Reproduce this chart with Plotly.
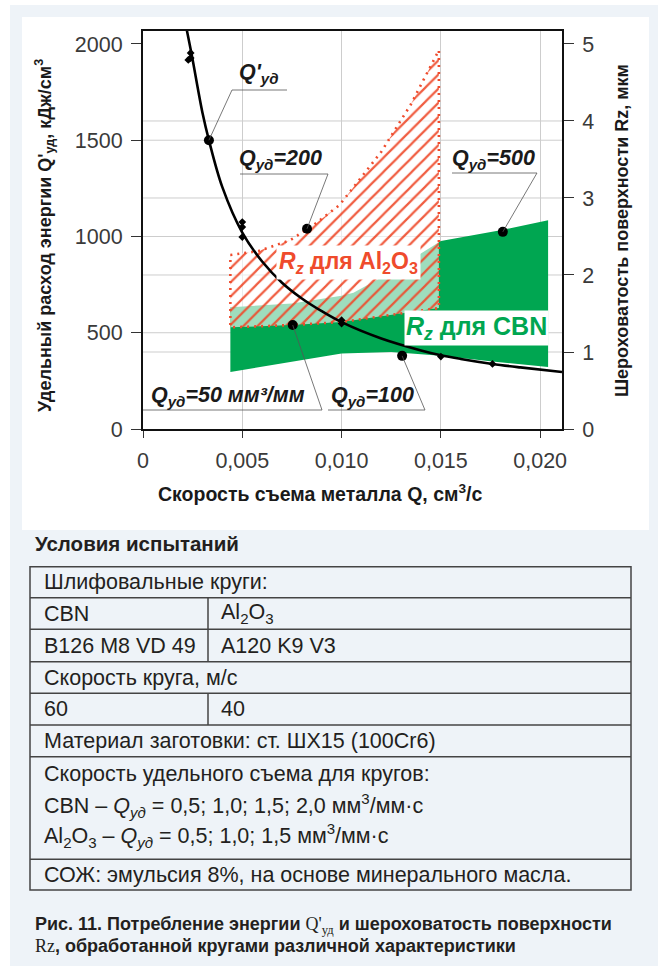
import plotly.graph_objects as go

W, H = 658, 966

# ---------------- data ----------------
# specific energy curve Q'уд (kJ/cm3) vs metal removal rate Q (cm3/s)
curve_q = [0.00221, 0.00246, 0.0030, 0.00332, 0.0040, 0.0050, 0.0060, 0.0070, 0.0080,
           0.0090, 0.0100, 0.0120, 0.0140, 0.0150, 0.0160, 0.0176, 0.0190, 0.0211]
curve_e = [2070, 1940, 1640, 1500, 1255, 1020, 870, 760, 678,
           612, 555, 470, 408, 383, 364, 338, 320, 296]

# measured points on the energy curve
mark_q = [0.00240, 0.00240, 0.00228, 0.0050, 0.0050, 0.0050, 0.0100, 0.0100, 0.0150, 0.0176]
mark_e = [1953, 1927, 1917, 1075, 1049, 997, 565, 548, 376, 338]
qprime_q = [0.00332]
qprime_e = [1500]

# Rz band for CBN wheels (µm)
cbn_top_q = [0.0044, 0.0075, 0.0100, 0.0106, 0.0125, 0.0150, 0.0180, 0.0204]
cbn_top_rz = [1.58, 1.63, 1.73, 1.77, 2.04, 2.44, 2.58, 2.71]
cbn_bot_q = [0.0044, 0.0075, 0.0100, 0.0125, 0.0150, 0.0176, 0.0204]
cbn_bot_rz = [0.74, 0.87, 0.98, 1.00, 0.95, 0.875, 0.805]

# Rz band for Al2O3 wheels (µm)
al_top_q = [0.0044, 0.0058, 0.0074, 0.0086, 0.0099, 0.0120, 0.0135, 0.0149]
al_top_rz = [2.26, 2.31, 2.45, 2.65, 2.91, 3.60, 4.22, 4.92]
al_bot_q = [0.0044, 0.0075, 0.0100, 0.0116, 0.0149]
al_bot_rz = [1.32, 1.35, 1.39, 1.45, 1.57]

# labelled Rz points
dot_q = [0.00754, 0.01305, 0.00826, 0.01812]
dot_rz = [1.35, 0.95, 2.60, 2.56]
dot_labels = ["Q<sub>уд</sub>=50 мм³/мм", "Q<sub>уд</sub>=100",
              "Q<sub>уд</sub>=200", "Q<sub>уд</sub>=500"]

x_ticks = [0, 0.005, 0.010, 0.015, 0.020]
x_tick_text = ["0", "0,005", "0,010", "0,015", "0,020"]
y_ticks = [0, 500, 1000, 1500, 2000]
y2_ticks = [0, 1, 2, 3, 4, 5]

XMAX, YMAX, Y2MAX = 0.0211, 2070, 5.175

table_rows = [
    ("Шлифовальные круги:", None),
    ("CBN", "Al<sub>2</sub>O<sub>3</sub>"),
    ("B126 M8 VD 49", "A120 K9 V3"),
    ("Скорость круга, м/с", None),
    ("60", "40"),
    ("Материал заготовки: ст. ШХ15 (100Cr6)", None),
]
table_multi = [
    "Скорость удельного съема для кругов:",
    "CBN – <i>Q</i><sub><i>уд</i></sub> = 0,5; 1,0; 1,5; 2,0 мм<sup>3</sup>/мм·с",
    "Al<sub>2</sub>O<sub>3</sub> – <i>Q</i><sub><i>уд</i></sub> = 0,5; 1,0; 1,5 мм<sup>3</sup>/мм·с",
]
table_last = "СОЖ: эмульсия 8%, на основе минерального масла."

# ---------------- styling / layout constants ----------------
RED = "#ef4b2c"
GREEN = "#00a651"
FONT = "Liberation Sans, Arial, sans-serif"
PL, PR, PT, PB = 143, 562, 30.5, 429


def px(p):
    return p / W


def py(p):
    return 1 - p / H


fig = go.Figure()

# Rz traces on base axis "y" (right side); energy on "y2" (left side, drawn on top)
fig.add_trace(go.Scatter(
    x=cbn_top_q + cbn_bot_q[::-1], y=cbn_top_rz + cbn_bot_rz[::-1],
    yaxis="y", mode="lines", fill="toself", fillcolor=GREEN,
    line=dict(width=0, color=GREEN), hoverinfo="skip", showlegend=False))

fig.add_trace(go.Scatter(
    x=al_top_q + al_bot_q[::-1] + [al_top_q[0]],
    y=al_top_rz + al_bot_rz[::-1] + [al_top_rz[0]],
    yaxis="y", mode="lines", fill="toself",
    fillcolor="rgba(255,255,255,0.62)",
    fillpattern=dict(shape="/", fgcolor=RED, bgcolor="rgba(255,255,255,0.62)",
                     size=10, solidity=0.22, fgopacity=0.9),
    line=dict(width=2.6, color=RED, dash="2px,5px"),
    hoverinfo="skip", showlegend=False))

fig.add_trace(go.Scatter(x=dot_q, y=dot_rz, yaxis="y", mode="markers",
                         marker=dict(symbol="circle", size=10, color="black"),
                         showlegend=False))

fig.add_trace(go.Scatter(x=curve_q, y=curve_e, yaxis="y2", mode="lines",
                         line=dict(color="black", width=2.6, shape="spline"),
                         showlegend=False))
fig.add_trace(go.Scatter(x=mark_q, y=mark_e, yaxis="y2", mode="markers",
                         marker=dict(symbol="diamond", size=6, color="black"),
                         showlegend=False))
fig.add_trace(go.Scatter(x=qprime_q, y=qprime_e, yaxis="y2", mode="markers",
                         marker=dict(symbol="circle", size=10, color="black"),
                         showlegend=False))

shapes = []
shapes.append(dict(type="rect", xref="paper", yref="paper", x0=px(10), x1=px(658),
                   y0=py(966), y1=py(5), fillcolor="#eef3f8", line=dict(width=0), layer="below"))
shapes.append(dict(type="rect", xref="paper", yref="paper", x0=px(22), x1=px(649),
                   y0=py(530), y1=py(17), fillcolor="white", line=dict(width=0), layer="below"))

GRID = "#cdcdcd"
for v in y_ticks:
    if 0 < v < y_ticks[-1]:
        shapes.append(dict(type="line", xref="x domain", yref="y2", x0=0, x1=1, y0=v, y1=v,
                           line=dict(color=GRID, width=1), layer="below"))
for v in y2_ticks:
    if 0 < v < y2_ticks[-1]:
        shapes.append(dict(type="line", xref="x domain", yref="y", x0=0, x1=1, y0=v, y1=v,
                           line=dict(color=GRID, width=1), layer="below"))

LEAD = "#555555"


def dot_pixel(q, val, vmax):
    return PL + q / XMAX * (PR - PL), PB - val / vmax * (PB - PT)


# label text centre (px), underline (x0, x1, y), leader end (x, y)
label_geo = [
    dict(cx=228, cy=396, u=(143, 322, 410), end=(322, 410)),
    dict(cx=372, cy=396, u=(328, 425, 410), end=(425, 410)),
    dict(cx=280, cy=159, u=(240, 328, 174), end=(328, 174)),
    dict(cx=493, cy=159, u=(452, 537, 173), end=(537, 173)),
]
annotations = []
LBL_FONT = dict(family=FONT, size=21.5, color="#1a1a1a")


def add_label(text, geo, aq, av, yref, vmax):
    x0, x1, yy = geo["u"]
    shapes.append(dict(type="line", xref="paper", yref="paper", x0=px(x0), x1=px(x1),
                       y0=py(yy), y1=py(yy), line=dict(color=LEAD, width=0.8)))
    dpx, dpy = dot_pixel(aq, av, vmax)
    ex, ey = geo["end"]
    shapes.append(dict(type="line", xref="x", yref=yref, xsizemode="pixel", ysizemode="pixel",
                       xanchor=aq, yanchor=av, x0=0, y0=0, x1=ex - dpx, y1=dpy - ey,
                       line=dict(color=LEAD, width=0.8)))
    annotations.append(dict(text="<b><i>" + text + "</i></b>", xref="paper", yref="paper",
                            x=px(geo["cx"]), y=py(geo["cy"]), xanchor="center", yanchor="middle",
                            showarrow=False, font=LBL_FONT))


for t, g, q, v in zip(dot_labels, label_geo, dot_q, dot_rz):
    add_label(t, g, q, v, "y", Y2MAX)
add_label("Q'<sub>уд</sub>", dict(cx=259, cy=74, u=(232, 287, 90), end=(232, 90)),
          qprime_q[0], qprime_e[0], "y2", YMAX)

# band labels
annotations.append(dict(text="<b><i>R<sub>z</sub></i> для Al<sub>2</sub>O<sub>3</sub></b>",
                        xref="paper", yref="paper", x=px(349), y=py(262.5),
                        xanchor="center", yanchor="middle", showarrow=False,
                        bgcolor="white", borderpad=2,
                        font=dict(family=FONT, size=23, color=RED)))
annotations.append(dict(text="<b><i>R<sub>z</sub></i> для CBN</b>",
                        xref="paper", yref="paper", x=px(476), y=py(328),
                        xanchor="center", yanchor="middle", showarrow=False,
                        bgcolor="white", borderpad=1,
                        font=dict(family=FONT, size=25, color=GREEN)))

# axis titles
TITLE_FONT = dict(family=FONT, size=18, color="#1a1a1a")
annotations.append(dict(text="<b>Удельный расход энергии Q'<sub>уд</sub>, кДж/см<sup>3</sup></b>",
                        xref="paper", yref="paper", x=px(45), y=py(236), textangle=-90,
                        xanchor="center", yanchor="middle", showarrow=False, font=TITLE_FONT))
annotations.append(dict(text="<b>Шероховатость поверхности Rz, мкм</b>",
                        xref="paper", yref="paper", x=px(622), y=py(231), textangle=-90,
                        xanchor="center", yanchor="middle", showarrow=False, font=TITLE_FONT))
annotations.append(dict(text="<b>Скорость съема металла Q, см<sup>3</sup>/с</b>",
                        xref="paper", yref="paper", x=px(320), y=py(493),
                        xanchor="center", yanchor="middle", showarrow=False,
                        font=dict(family=FONT, size=19.5, color="#1a1a1a")))

# ---------------- table ----------------
annotations.append(dict(text="<b>Условия испытаний</b>", xref="paper", yref="paper",
                        x=px(33), y=py(543), xanchor="left", yanchor="middle", showarrow=False,
                        font=dict(family=FONT, size=20.5, color="#231f20")))
TL, TR, COL = 30, 631, 208
row_edges = [566.7, 597.7, 629.3, 661.7, 693.3, 725, 756.7, 859.3, 890]
TLINE = dict(color="#444444", width=1.5)
shapes.append(dict(type="rect", xref="paper", yref="paper", x0=px(TL), x1=px(TR),
                   y0=py(row_edges[-1]), y1=py(row_edges[0]), line=TLINE))
for e in row_edges[1:-1]:
    shapes.append(dict(type="line", xref="paper", yref="paper", x0=px(TL), x1=px(TR),
                       y0=py(e), y1=py(e), line=TLINE))
CELL_FONT = dict(family=FONT, size=21.5, color="#231f20")
for i, (a, b) in enumerate(table_rows):
    top, bot = row_edges[i], row_edges[i + 1]
    cy = (top + bot) / 2
    annotations.append(dict(text=a, xref="paper", yref="paper", x=px(42), y=py(cy),
                            xanchor="left", yanchor="middle", showarrow=False, font=CELL_FONT))
    if b is not None:
        annotations.append(dict(text=b, xref="paper", yref="paper", x=px(219), y=py(cy),
                                xanchor="left", yanchor="middle", showarrow=False, font=CELL_FONT))
        shapes.append(dict(type="line", xref="paper", yref="paper", x0=px(COL), x1=px(COL),
                           y0=py(bot), y1=py(top), line=TLINE))
for t, cy in zip(table_multi, [774, 805, 835]):
    annotations.append(dict(text=t, xref="paper", yref="paper", x=px(42), y=py(cy),
                            xanchor="left", yanchor="middle", showarrow=False, font=CELL_FONT))
annotations.append(dict(text=table_last, xref="paper", yref="paper", x=px(42), y=py(875),
                        xanchor="left", yanchor="middle", showarrow=False, font=CELL_FONT))

# caption
CAP_FONT = dict(family=FONT, size=18, color="#231f20")
SERIF = "<span style='font-family:Liberation Serif, Times New Roman, serif;font-weight:normal'>"
annotations.append(dict(text="<b>Рис. 11. Потребление энергии </b>" + SERIF + "Q'<sub>уд</sub></span>"
                             "<b> и шероховатость поверхности</b>",
                        xref="paper", yref="paper", x=px(33), y=py(925), xanchor="left",
                        yanchor="middle", showarrow=False, font=CAP_FONT))
annotations.append(dict(text=SERIF + "Rz</span><b>, обработанной кругами различной характеристики</b>",
                        xref="paper", yref="paper", x=px(33), y=py(946), xanchor="left",
                        yanchor="middle", showarrow=False, font=CAP_FONT))

TICK_FONT = dict(family=FONT, size=21.5, color="#3a3a3a")
AX_COMMON = dict(ticks="outside", tickwidth=1.2, tickcolor="#333", showline=True,
                 linecolor="#111", linewidth=2, zeroline=False, tickfont=TICK_FONT,
                 ticklabelstandoff=4, automargin=False)
fig.update_layout(
    width=W, height=H, autosize=False,
    margin=dict(l=0, r=0, t=0, b=0, pad=0),
    paper_bgcolor="white", plot_bgcolor="rgba(0,0,0,0)",
    showlegend=False,
    font=dict(family=FONT),
    xaxis=dict(domain=[px(PL), px(PR)], range=[0, XMAX], tickmode="array",
               tickvals=x_ticks, ticktext=x_tick_text, ticklen=7, mirror=True,
               showgrid=True, gridcolor=GRID, gridwidth=1, anchor="y", **AX_COMMON),
    yaxis=dict(domain=[py(PB), py(PT)], range=[0, Y2MAX], side="right", anchor="x",
               tickmode="array", tickvals=y2_ticks, ticklen=10, showgrid=False, **AX_COMMON),
    yaxis2=dict(overlaying="y", side="left", anchor="x", range=[0, YMAX],
                tickmode="array", tickvals=y_ticks, ticklen=10, showgrid=False, **AX_COMMON),
    shapes=shapes,
    annotations=annotations,
)

POST = (
    "var de=document.documentElement, b=document.body;"
    "de.style.margin='0';de.style.padding='0';de.style.overflow='hidden';"
    "b.style.margin='0';b.style.padding='0';b.style.overflow='hidden';"
)
fig.write_html("out.html", config={"displayModeBar": False}, post_script=POST)
